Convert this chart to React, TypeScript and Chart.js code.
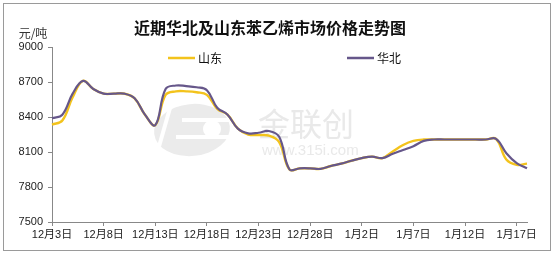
import React, { useEffect, useRef } from "react";
import { Chart, registerables } from "chart.js";

Chart.register(...registerables);

const dates: string[] = [
  "12月3日","12月4日","12月5日","12月6日","12月7日","12月8日","12月9日","12月10日","12月11日","12月12日",
  "12月13日","12月14日","12月15日","12月16日","12月17日","12月18日","12月19日","12月20日","12月21日","12月22日",
  "12月23日","12月24日","12月25日","12月26日","12月27日","12月28日","12月29日","12月30日","12月31日",
  "1月1日","1月2日","1月3日","1月4日","1月5日","1月6日","1月7日","1月8日","1月9日","1月10日",
  "1月11日","1月12日","1月13日","1月14日","1月15日","1月16日","1月17日","1月18日",
];

const shandong: number[] = [
  8335, 8370, 8570, 8710, 8640, 8600, 8600, 8600, 8560, 8420,
  8330, 8590, 8620, 8620, 8612, 8590, 8470, 8420, 8300, 8250,
  8245, 8240, 8185, 7950, 7960, 7960, 7955, 7980, 8000,
  8025, 8048, 8060, 8048, 8105, 8160, 8195, 8207, 8207, 8207,
  8207, 8207, 8207, 8207, 8213, 8035, 7990, 8000,
];

const huabei: number[] = [
  8390, 8420, 8600, 8710, 8640, 8600, 8600, 8600, 8560, 8420,
  8330, 8640, 8670, 8665, 8655, 8630, 8480, 8420, 8300, 8260,
  8265, 8280, 8230, 7950, 7960, 7960, 7955, 7980, 8000,
  8025, 8048, 8060, 8048, 8085, 8117, 8150, 8195, 8207, 8207,
  8207, 8207, 8207, 8207, 8213, 8090, 8005, 7960,
];

const yMin = 7500;
const yMax = 9000;
const yStep = 300;

const titleText = "近期华北及山东苯乙烯市场价格走势图";
const unitText = "元/吨";
const seriesNames = ["山东", "华北"];
const colors = ["#F3C31C", "#66578A"];

const decorPlugin = {
  id: "decor",
  beforeDraw(chart: any) {
    const ctx = chart.ctx;
    ctx.save();
    ctx.fillStyle = "#ffffff";
    ctx.fillRect(0, 0, chart.width, chart.height);
    ctx.strokeStyle = "#9a9a9a";
    ctx.lineWidth = 1;
    ctx.strokeRect(3.5, 3.5, 547, 247);
    ctx.fillStyle = "#ebebeb";
    ctx.beginPath();
    ctx.ellipse(192, 130, 38, 26, -0.1, 0, Math.PI * 2);
    ctx.fill();
    ctx.strokeStyle = "#ffffff";
    ctx.lineWidth = 4;
    ctx.beginPath();
    ctx.moveTo(170, 108);
    ctx.lineTo(158, 150);
    ctx.moveTo(182, 120);
    ctx.lineTo(232, 120);
    ctx.moveTo(176, 137);
    ctx.lineTo(232, 137);
    ctx.stroke();
    ctx.beginPath();
    ctx.arc(212, 129, 9, 0, Math.PI * 2);
    ctx.fillStyle = "#ffffff";
    ctx.fill();
    ctx.fillStyle = "#e9e9e9";
    ctx.textAlign = "left";
    ctx.textBaseline = "middle";
    ctx.font = "32px 'Noto Sans CJK SC'";
    ctx.fillText("金联创", 258, 124);
    ctx.font = "15px 'Liberation Sans'";
    ctx.fillText("www.315i.com", 262, 151);
    ctx.restore();
  },
  afterDraw(chart: any) {
    const ctx = chart.ctx;
    ctx.save();
    ctx.fillStyle = "#111";
    ctx.textAlign = "center";
    ctx.textBaseline = "middle";
    ctx.font = "bold 16px 'Noto Sans CJK SC'";
    ctx.fillText(titleText, 270, 28);
    ctx.font = "12px 'Noto Sans CJK SC'";
    ctx.fillStyle = "#333";
    ctx.fillText(unitText, 33, 33);
    const items = [
      { x: 168, name: seriesNames[0], color: colors[0] },
      { x: 347, name: seriesNames[1], color: colors[1] },
    ];
    items.forEach((it) => {
      ctx.strokeStyle = it.color;
      ctx.lineWidth = 2.5;
      ctx.beginPath();
      ctx.moveTo(it.x, 58);
      ctx.lineTo(it.x + 27, 58);
      ctx.stroke();
      ctx.fillStyle = "#111";
      ctx.textAlign = "left";
      ctx.font = "12px 'Noto Sans CJK SC'";
      ctx.fillText(it.name, it.x + 30, 58);
    });
    ctx.restore();
  },
};

export default function App() {
  const ref = useRef<HTMLCanvasElement>(null);
  useEffect(() => {
    if (!ref.current) return;
    const chart = new Chart(ref.current, {
      type: "line",
      data: {
        labels: dates,
        datasets: [
          {
            label: seriesNames[1],
            data: huabei,
            borderColor: colors[1],
            borderWidth: 2.2,
            pointRadius: 0,
            tension: 0.4,
            fill: false,
          },
          {
            label: seriesNames[0],
            data: shandong,
            borderColor: colors[0],
            borderWidth: 2.4,
            pointRadius: 0,
            tension: 0.4,
            fill: false,
          },
        ],
      },
      options: {
        responsive: false,
        animation: false,
        devicePixelRatio: 1,
        layout: { padding: { top: 47, right: 29, left: 0, bottom: 0 } },
        plugins: {
          legend: { display: false },
          title: { display: false },
          tooltip: { enabled: false },
        },
        scales: {
          x: {
            type: "category",
            offset: false,
            afterFit: (s: any) => {
              s.height = 39;
            },
            grid: {
              drawOnChartArea: false,
              tickLength: 4,
              tickColor: (c: any) => (c.index % 5 === 0 ? "#888" : "rgba(0,0,0,0)"),
            },
            border: { color: "#888", width: 1 },
            ticks: {
              autoSkip: false,
              maxRotation: 0,
              minRotation: 0,
              padding: 2,
              color: "#222",
              font: { family: "'Liberation Sans', 'Noto Sans CJK SC'", size: 11 },
              callback: (_v: any, i: number) => (i % 5 === 0 ? dates[i] : ""),
            },
          },
          y: {
            min: yMin,
            max: yMax,
            afterFit: (s: any) => {
              s.width = 52;
            },
            grid: { drawOnChartArea: false, tickLength: 4, tickColor: "#888" },
            border: { color: "#888", width: 1 },
            ticks: {
              stepSize: yStep,
              padding: 5,
              color: "#222",
              font: { family: "'Liberation Sans'", size: 11 },
              callback: (v: any) => String(v),
            },
          },
        },
      },
      plugins: [decorPlugin],
    });
    return () => chart.destroy();
  }, []);
  return (
    <div style={{ position: "fixed", left: 0, top: 0, width: 556, height: 261, background: "#fff" }}>
      <canvas ref={ref} width={556} height={261} style={{ width: 556, height: 261, display: "block" }} />
    </div>
  );
}
